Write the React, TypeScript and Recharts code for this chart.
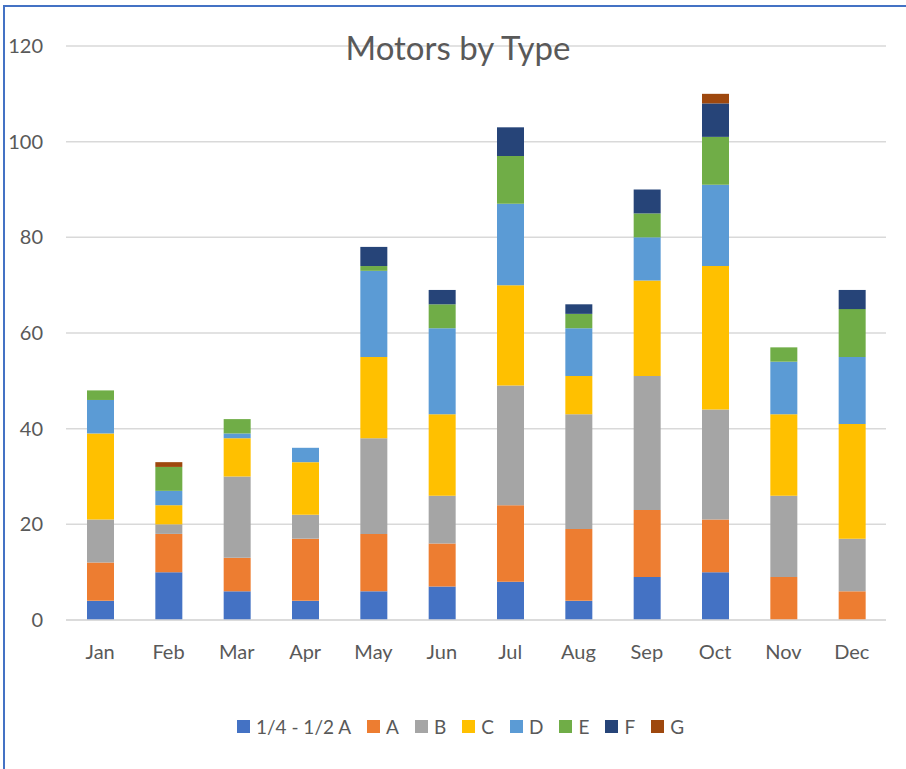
import { BarChart, Bar, XAxis, YAxis, CartesianGrid } from "recharts";

const months = ["Jan", "Feb", "Mar", "Apr", "May", "Jun", "Jul", "Aug", "Sep", "Oct", "Nov", "Dec"];

const quarterHalfA = [4, 10, 6, 4, 6, 7, 8, 4, 9, 10, 0, 0];
const typeA = [8, 8, 7, 13, 12, 9, 16, 15, 14, 11, 9, 6];
const typeB = [9, 2, 17, 5, 20, 10, 25, 24, 28, 23, 17, 11];
const typeC = [18, 4, 8, 11, 17, 17, 21, 8, 20, 30, 17, 24];
const typeD = [7, 3, 1, 3, 18, 18, 17, 10, 9, 17, 11, 14];
const typeE = [2, 5, 3, 0, 1, 5, 10, 3, 5, 10, 3, 10];
const typeF = [0, 0, 0, 0, 4, 3, 6, 2, 5, 7, 0, 4];
const typeG = [0, 1, 0, 0, 0, 0, 0, 0, 0, 2, 0, 0];

const yTicks = [0, 20, 40, 60, 80, 100, 120];

const series = [
  { key: "q", name: "1/4 - 1/2 A", values: quarterHalfA, color: "#4472C4" },
  { key: "a", name: "A", values: typeA, color: "#ED7D31" },
  { key: "b", name: "B", values: typeB, color: "#A5A5A5" },
  { key: "c", name: "C", values: typeC, color: "#FFC000" },
  { key: "d", name: "D", values: typeD, color: "#5B9BD5" },
  { key: "e", name: "E", values: typeE, color: "#70AD47" },
  { key: "f", name: "F", values: typeF, color: "#264478" },
  { key: "g", name: "G", values: typeG, color: "#9E480E" },
];

const data = months.map((m, i) => {
  const row: Record<string, string | number> = { month: m };
  series.forEach((s) => {
    row[s.key] = s.values[i];
  });
  return row;
});

const font = "Lato, 'Open Sans', sans-serif";
const textColor = "#595959";

export default function App() {
  return (
    <div
      style={{
        position: "absolute",
        left: 0,
        top: 0,
        width: 906,
        height: 769,
        background: "#fff",
        fontFamily: font,
        overflow: "hidden",
      }}
    >
      <div
        style={{
          position: "absolute",
          left: 3,
          top: 5,
          right: -10,
          bottom: -10,
          borderTop: "2px solid #4472C4",
          borderLeft: "2px solid #4472C4",
        }}
      />
      <BarChart
        width={906}
        height={769}
        data={data}
        margin={{ top: 46, right: 20, bottom: 109, left: 0 }}
        barSize={27}
      >
        <CartesianGrid vertical={false} stroke="#d9d9d9" strokeWidth={1.5} />
        <XAxis
          dataKey="month"
          height={40}
          stroke="#d9d9d9"
          strokeWidth={1.5}
          tickLine={false}
          tickMargin={19}
          tick={{ fill: textColor, fontSize: 20, fontFamily: font }}
        />
        <YAxis
          width={66}
          domain={[0, 120]}
          ticks={yTicks}
          axisLine={false}
          tickLine={false}
          tickMargin={17}
          tick={{ fill: textColor, fontSize: 20, fontFamily: font }}
        />
        {series.map((s) => (
          <Bar
            key={s.key}
            dataKey={s.key}
            name={s.name}
            stackId="motors"
            fill={s.color}
            isAnimationActive={false}
          />
        ))}
      </BarChart>
      <div
        style={{
          position: "absolute",
          left: 0,
          width: 916,
          top: 27,
          textAlign: "center",
          fontSize: 33,
          color: textColor,
          pointerEvents: "none",
        }}
      >
        Motors by Type
      </div>
      <div
        style={{
          position: "absolute",
          left: 0,
          width: 921,
          top: 715,
          display: "flex",
          justifyContent: "center",
          alignItems: "center",
          fontSize: 19,
          color: textColor,
        }}
      >
        {series.map((s, i) => (
          <div
            key={s.key}
            style={{
              display: "flex",
              alignItems: "center",
              marginRight: i === series.length - 1 ? 0 : 16,
            }}
          >
            <span
              style={{
                display: "inline-block",
                width: 13,
                height: 13,
                background: s.color,
                marginRight: 6,
              }}
            />
            <span>{s.name}</span>
          </div>
        ))}
      </div>
    </div>
  );
}
